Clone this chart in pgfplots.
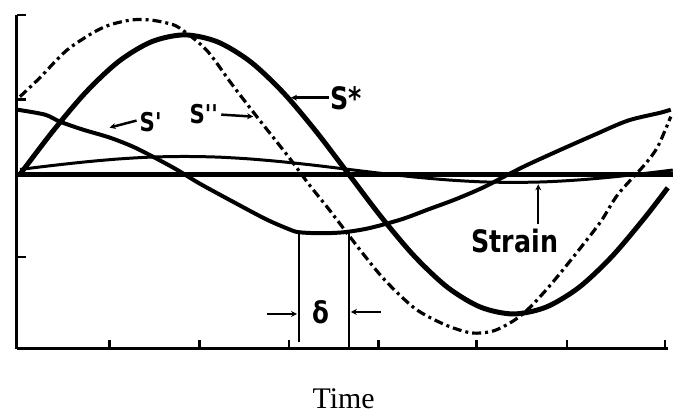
\documentclass[border=0pt]{standalone}
\usepackage{fontspec}
\setmainfont{Liberation Serif}
\newfontfamily\lab{DejaVu Sans}[FakeStretch=0.82]
\usepackage{pgfplots}
\pgfplotsset{compat=1.18}
\usetikzlibrary{arrows.meta}
\begin{document}
\begin{tikzpicture}
\begin{axis}[
  x=1pt, y=1pt,
  xmin=17, xmax=670, ymin=0, ymax=335,
  axis x line=bottom, axis y line=left,
  axis line style={line width=3pt, -},
  xtick={110,200,290,380,478,569,667},
  ytick={92,175,250,335},
  xticklabels={}, yticklabels={},
  tick align=inside,
  major tick length=9pt,
  tick style={line width=2.5pt, black},
  clip=false,
  xlabel={\fontsize{30}{34}\selectfont Time},
  x label style={at={(axis description cs:0.502,-0.18)}, anchor=base},
]
% zero line
\addplot[black, line width=4.5pt] coordinates {(17,175) (675,175)};
% strain (small amplitude)
\addplot[black, line width=3pt, smooth] coordinates {
(20,180) (53,184) (86,187.6) (119,190.5) (152,192.4) (185,193) (218,192.4)
(251,190.5) (284,187.6) (317,184) (350,180) (383,176) (416,172.4) (449,169.5)
(482,167.6) (515,167) (548,167.6) (581,169.5) (614,172.4) (647,176) (675,179.4)};
% S* (thick)
\addplot[black, line width=5pt, smooth] coordinates {
(20,175) (53,218.3) (86,257.3) (119,288.3) (152,308.1) (185,315) (218,308.1)
(251,288.3) (284,257.3) (317,218.3) (350,175) (383,131.7) (416,92.7) (449,61.7)
(482,41.9) (515,35) (548,41.9) (581,61.7) (614,92.7) (647,131.7) (670,161.6)};
% S'' (dashed)
\addplot[black, line width=3.2pt, smooth, dash pattern=on 9pt off 4pt on 3pt off 4pt] coordinates {
(20,253) (40,272) (57,290) (70,302) (93,317) (110,325) (132,330) (150,330)
(167,327) (180,322) (207,300) (233,265) (260,230) (290,192) (310,165) (330,140)
(363,97) (387,68) (417,40) (447,24) (473,16) (495,18) (515,28) (530,40)
(547,58) (563,77) (583,102) (603,128) (620,155) (647,185) (660,203) (673,233)};
% S' (medium)
\addplot[black, line width=4pt, smooth] coordinates {
(17,240) (45,235) (60,228) (83,220) (110,212) (133,203) (153,193) (177,180)
(200,166) (233,148) (267,130) (290,120) (300,117) (322,116) (345,117) (370,121)
(403,130) (430,140) (457,150) (485,162) (510,175) (530,185) (563,200) (597,215)
(630,229) (663,237) (673,240)};
% delta verticals
\addplot[black, line width=2.5pt] coordinates {(300,117) (300,7)};
\addplot[black, line width=2.5pt] coordinates {(350,116) (350,0)};
% delta arrows
\addplot[black, line width=2.5pt, -{Stealth[length=6pt,width=6pt]}] coordinates {(268,35) (298,35)};
\addplot[black, line width=2.5pt, -{Stealth[length=6pt,width=6pt]}] coordinates {(382,37) (352,37)};
% label pointers
\addplot[black, line width=2.5pt, -{Stealth[length=6pt,width=6pt]}] coordinates {(137,229) (110,222)};
\addplot[black, line width=2.5pt, -{Stealth[length=6pt,width=6pt]}] coordinates {(222,235) (254,233)};
\addplot[black, line width=2.5pt, -{Stealth[length=6pt,width=6pt]}] coordinates {(330,252) (292,252)};
\addplot[black, line width=2.5pt, -{Stealth[length=6pt,width=6pt]}] coordinates {(540,125) (540,165)};
% labels
\node[anchor=base west, inner sep=0pt, font={\lab\bfseries\fontsize{26}{30}\selectfont}] at (axis cs:140,218) {S'};
\node[anchor=base west, inner sep=0pt, font={\lab\bfseries\fontsize{26}{30}\selectfont}] at (axis cs:190,226) {S''};
\node[anchor=base west, inner sep=0pt, font={\lab\bfseries\fontsize{31}{36}\selectfont}] at (axis cs:331,240) {S*};
\node[anchor=base west, inner sep=0pt, font={\lab\bfseries\fontsize{31}{36}\selectfont}] at (axis cs:473,97) {Strain};
\node[anchor=base west, inner sep=0pt, font={\lab\bfseries\fontsize{30}{34}\selectfont}] at (axis cs:313,25) {δ};
\coordinate (bbsw) at (axis cs:0,-68);
\coordinate (bbne) at (axis cs:675,350);
\end{axis}
\path (bbsw) rectangle (bbne);
\end{tikzpicture}
\end{document}
